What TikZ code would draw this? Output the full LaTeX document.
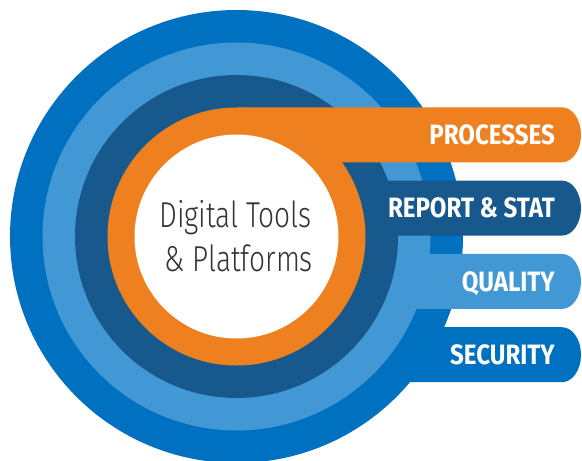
\documentclass[tikz,border=0pt]{standalone}
\usepackage{fontspec}
\setmainfont{Fira Sans}
\newfontfamily\labfont{Fira Sans}[FakeStretch=0.86]
\newfontfamily\ctrfont{Fira Sans Light}[FakeStretch=0.78]
\definecolor{cOuter}{HTML}{0070C0}
\definecolor{cLight}{HTML}{4298D4}
\definecolor{cDark}{HTML}{17598D}
\definecolor{cOrange}{HTML}{EE801F}
\definecolor{cText}{HTML}{333333}
\newcommand\mybar[2]{%
  \fill[#1] (236.5,#2) -- (562,#2)
    arc[start angle=-90, end angle=90, x radius=19, y radius=27.5]
    -- (236.5,#2+55) -- cycle;}
\tikzset{
  lab/.style={text=white, inner sep=0pt, anchor=base east,
    font=\labfont\bfseries\fontsize{28}{28}\selectfont},
  ctr/.style={text=cText, inner sep=0pt, anchor=base,
    font=\ctrfont\fontsize{36}{42}\selectfont}
}
\begin{document}
\begin{tikzpicture}[x=1pt,y=-1pt]
\useasboundingbox (0,0) rectangle (582,461);
\clip (0,0) rectangle (582,461);
\coordinate (c) at (236.5,236.5);
% outer ring + SECURITY
\fill[cOuter] (c) circle[radius=226.5];
\mybar{cOuter}{327.2}
% light ring + QUALITY
\fill[cLight] (c) circle[radius=194];
\mybar{cLight}{253.9}
% dark ring + REPORT
\fill[cDark] (c) circle[radius=161.5];
\mybar{cDark}{180.6}
% orange ring + PROCESSES
\fill[cOrange] (c) circle[radius=129];
\mybar{cOrange}{107.3}
% white core
\fill[white] (c) circle[radius=102];
% labels
\node[lab] (processes) at (555,144.6) {PROCESSES};
\node[lab] (report) at (555,217.9) {REPORT \& STAT};
\node[lab] (quality) at (555,291.2) {QUALITY};
\node[lab] (security) at (555,364.5) {SECURITY};
\node[ctr] (title1) at (235.5,227.3) {Digital Tools};
\node[ctr] (title2) at (238.7,271.7) {\& Platforms};
\end{tikzpicture}
\end{document}
